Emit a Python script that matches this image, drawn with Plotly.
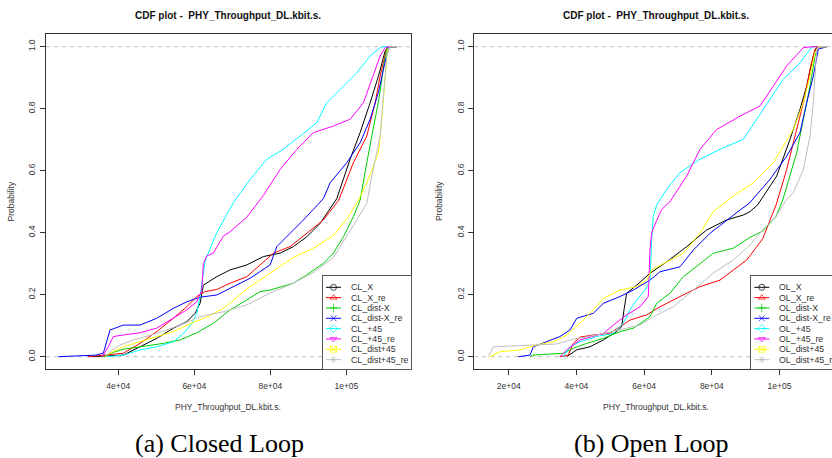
import plotly.graph_objects as go

W, H = 832, 458

# ---------------- data ----------------
cl_names = ["CL_X", "CL_X_re", "CL_dist-X", "CL_dist-X_re", "CL_+45", "CL_+45_re", "CL_dist+45", "CL_dist+45_re"]
ol_names = ["OL_X", "OL_X_re", "OL_dist-X", "OL_dist-X_re", "OL_+45", "OL_+45_re", "OL_dist+45", "OL_dist+45_re"]

# Closed loop
cl_x_v = [33000, 41316, 45711, 50107, 54476, 58003, 60188, 61504, 62372, 65899, 69400, 73794, 78164, 82560, 86060, 89585, 93089, 97484, 100985, 103616, 106248, 108432, 110194, 111000, 113300]
cl_x_p = [0, 0.005, 0.032, 0.059, 0.092, 0.113, 0.140, 0.172, 0.231, 0.258, 0.280, 0.296, 0.323, 0.334, 0.355, 0.387, 0.43, 0.51, 0.637, 0.723, 0.819, 0.905, 0.986, 1.0, 1.0]

cl_xre_v = [32000, 41316, 45711, 50107, 54476, 58003, 60635, 62820, 65899, 69400, 73794, 79059, 80796, 85192, 89585, 93956, 98000, 101852, 105379, 107564, 108880, 110458, 111200, 113300]
cl_xre_p = [0, 0.011, 0.043, 0.081, 0.124, 0.161, 0.194, 0.210, 0.217, 0.237, 0.258, 0.317, 0.334, 0.355, 0.398, 0.441, 0.505, 0.626, 0.712, 0.819, 0.905, 0.986, 1.0, 1.0]

cl_dx_v = [36000, 37816, 41316, 45711, 51844, 56239, 60635, 65004, 69400, 73794, 77295, 79928, 86060, 89585, 93956, 96588, 99220, 101852, 103616, 105379, 107116, 108695, 109932, 110643, 111500, 113300]
cl_dx_p = [0, 0.011, 0.024, 0.032, 0.043, 0.054, 0.077, 0.108, 0.151, 0.183, 0.210, 0.215, 0.237, 0.264, 0.301, 0.334, 0.387, 0.452, 0.505, 0.626, 0.733, 0.841, 0.948, 0.992, 1.0, 1.0]

cl_dxre_v = [24200, 34000, 36052, 37816, 41316, 45711, 50107, 54476, 58003, 61504, 65899, 70268, 74664, 79928, 81692, 85192, 88692, 93956, 95719, 100115, 103616, 106248, 108432, 109748, 111064, 113300]
cl_dxre_p = [0, 0.005, 0.011, 0.086, 0.102, 0.102, 0.124, 0.156, 0.177, 0.192, 0.199, 0.226, 0.253, 0.296, 0.355, 0.398, 0.441, 0.51, 0.561, 0.626, 0.690, 0.766, 0.852, 0.927, 0.997, 1.0]

cl_45_v = [37000, 41316, 45711, 50107, 54476, 57109, 59434, 60635, 61504, 62372, 62820, 63267, 65899, 70268, 74664, 79059, 83428, 87823, 92219, 94851, 99220, 102747, 106248, 108880, 109500, 113300]
cl_45_p = [0, 0.005, 0.022, 0.032, 0.048, 0.075, 0.108, 0.140, 0.194, 0.269, 0.306, 0.323, 0.4, 0.497, 0.572, 0.637, 0.669, 0.712, 0.755, 0.819, 0.873, 0.916, 0.97, 0.997, 1.0, 1.0]

cl_45re_v = [35500, 36052, 37368, 38684, 41316, 45711, 50107, 54476, 58003, 60635, 61951, 62372, 63267, 65004, 67636, 69400, 73794, 78164, 82560, 86955, 91324, 96588, 100985, 104484, 106696, 108880, 110194, 111000, 113300]
cl_45re_p = [0, 0.005, 0.032, 0.065, 0.070, 0.077, 0.092, 0.124, 0.151, 0.177, 0.215, 0.301, 0.325, 0.334, 0.389, 0.403, 0.45, 0.52, 0.604, 0.669, 0.723, 0.744, 0.766, 0.819, 0.895, 0.97, 0.997, 1.0, 1.0]

cl_d45_v = [36500, 37816, 41316, 45711, 50107, 54476, 59171, 63567, 67636, 71462, 74664, 79059, 86060, 91324, 96588, 100115, 102747, 105379, 108432, 109327, 110194, 110801, 111500, 113300]
cl_d45_p = [0, 0.011, 0.032, 0.048, 0.065, 0.081, 0.108, 0.129, 0.156, 0.194, 0.226, 0.262, 0.32, 0.35, 0.39, 0.445, 0.495, 0.561, 0.658, 0.766, 0.905, 0.992, 1.0, 1.0]

cl_d45re_v = [36500, 37816, 40447, 43948, 50107, 56239, 61504, 67636, 73794, 79928, 86060, 91624, 96588, 100115, 102747, 105379, 106696, 108880, 109932, 110643, 111500, 113300]
cl_d45re_p = [0, 0.016, 0.038, 0.054, 0.075, 0.102, 0.129, 0.145, 0.167, 0.205, 0.237, 0.274, 0.32, 0.387, 0.441, 0.495, 0.583, 0.712, 0.873, 0.97, 1.0, 1.0]

# Open loop
ol_x_v = [37134, 40087, 44016, 47945, 51903, 53380, 54059, 54857, 57811, 61739, 66673, 72581, 78489, 84397, 89301, 91271, 93555, 95209, 99167, 103096, 106050, 108028, 109976, 111000, 113900]
ol_x_p = [0, 0.022, 0.032, 0.054, 0.081, 0.097, 0.151, 0.205, 0.231, 0.269, 0.306, 0.355, 0.409, 0.441, 0.457, 0.468, 0.49, 0.518, 0.583, 0.701, 0.798, 0.873, 0.97, 1.0, 1.0]

ol_xre_v = [35154, 37607, 39083, 41062, 44991, 49924, 52878, 55832, 60765, 64693, 70601, 76510, 82418, 86347, 90305, 95000, 99000, 102120, 105075, 107527, 109000, 110480, 111500, 113900]
ol_xre_p = [0, 0.005, 0.043, 0.063, 0.07, 0.075, 0.097, 0.118, 0.135, 0.161, 0.194, 0.226, 0.247, 0.28, 0.312, 0.38, 0.49, 0.604, 0.733, 0.841, 0.927, 0.992, 1.0, 1.0]

ol_dx_v = [26292, 27000, 36129, 39083, 43041, 47945, 52878, 56807, 61739, 63719, 67648, 71577, 76510, 80439, 86347, 91271, 95029, 98959, 100939, 103096, 105075, 107027, 109000, 110480, 111500, 113900]
ol_dx_p = [0, 0.005, 0.011, 0.027, 0.043, 0.059, 0.081, 0.092, 0.129, 0.172, 0.205, 0.258, 0.3, 0.334, 0.35, 0.385, 0.405, 0.452, 0.505, 0.583, 0.658, 0.766, 0.873, 0.97, 1.0, 1.0]

ol_dxre_v = [22836, 26292, 27267, 31225, 35154, 38108, 40087, 44991, 47945, 52878, 56807, 61739, 64693, 70601, 74531, 79464, 84397, 88326, 91074, 97188, 102120, 106050, 108028, 109976, 111458, 113938]
ol_dxre_p = [0, 0.005, 0.032, 0.048, 0.065, 0.086, 0.124, 0.14, 0.172, 0.194, 0.215, 0.247, 0.274, 0.29, 0.344, 0.398, 0.441, 0.473, 0.495, 0.572, 0.647, 0.723, 0.819, 0.905, 0.992, 1.0]

ol_45_v = [36129, 38108, 41062, 46000, 50899, 53853, 55832, 57811, 60262, 61739, 62242, 62714, 63719, 66673, 70601, 76510, 82418, 89301, 93259, 97188, 101115, 106050, 109000, 110000, 113900]
ol_45_p = [0, 0.032, 0.048, 0.065, 0.075, 0.108, 0.151, 0.183, 0.215, 0.247, 0.38, 0.452, 0.49, 0.54, 0.594, 0.637, 0.669, 0.701, 0.766, 0.83, 0.895, 0.948, 0.992, 1.0, 1.0]

ol_45re_v = [35154, 37134, 41062, 47945, 50899, 54857, 58785, 61238, 61739, 62242, 63719, 65196, 67648, 72581, 76510, 81442, 88326, 94234, 98161, 102120, 107027, 109976, 113900]
ol_45re_p = [0, 0.022, 0.054, 0.075, 0.102, 0.135, 0.161, 0.194, 0.344, 0.40, 0.44, 0.475, 0.50, 0.583, 0.669, 0.733, 0.776, 0.809, 0.873, 0.938, 0.997, 1.0, 1.0]

ol_d45_v = [14476, 17430, 23338, 28271, 33175, 37134, 41062, 44991, 47945, 52878, 57811, 60765, 62242, 66673, 71577, 76510, 80439, 86347, 92253, 98161, 101115, 104073, 107027, 109000, 110480, 111500, 113900]
ol_d45_p = [0, 0.016, 0.022, 0.038, 0.048, 0.07, 0.108, 0.151, 0.188, 0.215, 0.226, 0.247, 0.28, 0.306, 0.334, 0.398, 0.468, 0.518, 0.561, 0.626, 0.68, 0.733, 0.819, 0.905, 0.981, 1.0, 1.0]

ol_d45re_v = [13974, 15451, 34179, 39083, 46000, 52878, 58785, 62714, 68623, 74531, 80439, 86347, 91271, 95029, 98959, 101913, 104073, 107027, 109000, 109976, 110480, 110983, 112000, 113900]
ol_d45re_p = [0, 0.032, 0.041, 0.056, 0.07, 0.086, 0.102, 0.129, 0.161, 0.215, 0.27, 0.312, 0.36, 0.409, 0.452, 0.505, 0.529, 0.604, 0.712, 0.819, 0.927, 0.992, 1.0, 1.0]

cl_series = [(cl_x_v, cl_x_p), (cl_xre_v, cl_xre_p), (cl_dx_v, cl_dx_p), (cl_dxre_v, cl_dxre_p),
             (cl_45_v, cl_45_p), (cl_45re_v, cl_45re_p), (cl_d45_v, cl_d45_p), (cl_d45re_v, cl_d45re_p)]
ol_series = [(ol_x_v, ol_x_p), (ol_xre_v, ol_xre_p), (ol_dx_v, ol_dx_p), (ol_dxre_v, ol_dxre_p),
             (ol_45_v, ol_45_p), (ol_45re_v, ol_45re_p), (ol_d45_v, ol_d45_p), (ol_d45re_v, ol_d45re_p)]

cl_xticks = [40000, 60000, 80000, 100000]
cl_xticktext = ["4e+04", "6e+04", "8e+04", "1e+05"]
ol_xticks = [20000, 40000, 60000, 80000, 100000]
ol_xticktext = ["2e+04", "4e+04", "6e+04", "8e+04", "1e+05"]
yticks = [0, 0.2, 0.4, 0.6, 0.8, 1.0]
yticktext = ["0.0", "0.2", "0.4", "0.6", "0.8", "1.0"]

title_text = "CDF plot - &nbsp;PHY_Throughput_DL.kbit.s."
xlab = "PHY_Throughput_DL.kbit.s."
ylab = "Probability"
captions = ["(a) Closed Loop", "(b) Open Loop"]

# ---------------- styles ----------------
colors = ["#000000", "#FF0000", "#00CD00", "#0000FF", "#00FFFF", "#FF00FF", "#FFFF00", "#BEBEBE"]
symbols = ["circle-open", "triangle-up-open", "cross-thin-open", "x-thin-open",
           "diamond-open", "triangle-down-open", "square-x-open", "asterisk-open"]
SANS = "Liberation Sans, Arial, sans-serif"
AX = "#333333"


def fx(px):
    return px / W


def fy(py):
    return 1 - py / H


fig = go.Figure()

panels = [
    ("x", "y", cl_series, 45.7, 411.0, [20900, 117000], cl_xticks, cl_xticktext, True),
    ("x2", "y2", ol_series, 474.3, 832.0, [9840, 115500], ol_xticks, ol_xticktext, False),
]
top_px, bot_px = 34.0, 369.0

for xa, ya, series, lpx, rpx, xr, xt, xtt, mirror_y in panels:
    for (v, p), c in zip(series, colors):
        fig.add_trace(go.Scatter(x=v, y=p, mode="lines", xaxis=xa, yaxis=ya,
                                 line=dict(color=c, width=1), showlegend=False,
                                 hoverinfo="skip"))

axis_common = dict(showgrid=False, zeroline=False, showline=True, linecolor=AX, linewidth=1,
                   ticks="outside", ticklen=5, tickwidth=1, tickcolor=AX,
                   tickfont=dict(family=SANS, size=8.5, color=AX))

layout = dict(
    width=W, height=H, margin=dict(l=0, r=0, t=0, b=0),
    paper_bgcolor="white", plot_bgcolor="white", showlegend=False,
)
for i, (xa, ya, series, lpx, rpx, xr, xt, xtt, mirror_y) in enumerate(panels):
    xkey = "xaxis" if xa == "x" else "xaxis2"
    ykey = "yaxis" if ya == "y" else "yaxis2"
    layout[xkey] = dict(axis_common, domain=[fx(lpx), fx(rpx)], range=xr, anchor=ya,
                        tickvals=xt, ticktext=xtt, mirror=True, ticklabelstandoff=4)
    layout[ykey] = dict(axis_common, domain=[fy(bot_px), fy(top_px)], range=[-0.0397, 1.041],
                        anchor=xa, tickvals=yticks, ticktext=yticktext, tickangle=-90,
                        mirror=mirror_y, ticklabelstandoff=1)

legend_boxes = [(322.7, 410.7, "x3", "y3", cl_names), (751.0, 832.0, "x4", "y4", ol_names)]
leg_top, leg_bot = 276.0, 369.0
for j, (l0, l1, xa, ya, names) in enumerate(legend_boxes):
    xk = "xaxis%d" % (j + 3)
    yk = "yaxis%d" % (j + 3)
    layout[xk] = dict(domain=[fx(l0), fx(l1)], range=[l0, l1], anchor=ya, showgrid=False,
                      zeroline=False, showticklabels=False, ticks="", showline=True,
                      linecolor="#555555", linewidth=1, mirror=True, fixedrange=True)
    layout[yk] = dict(domain=[fy(leg_bot), fy(leg_top)], range=[leg_bot, leg_top], anchor=xa,
                      showgrid=False, zeroline=False, showticklabels=False, ticks="",
                      showline=True, linecolor="#555555", linewidth=1, mirror=(j == 0),
                      fixedrange=True)

fig.update_layout(**layout)

for xa, ya in [("x", "y"), ("x2", "y2")]:
    for yv in (0, 1):
        fig.add_shape(type="line", xref=xa + " domain", yref=ya, x0=0, x1=1, y0=yv, y1=yv,
                      line=dict(color="#BEBEBE", width=1, dash="4px,4px"), layer="below")

annotations = []
for j, (l0, l1, xa, ya, names) in enumerate(legend_boxes):
    for k, (nm, c, s) in enumerate(zip(names, colors, symbols)):
        yy = 287.3 + 10.33 * k
        fig.add_trace(go.Scatter(
            x=[l0 + 3.3, l0 + 10.8, l0 + 18.3], y=[yy, yy, yy], mode="lines+markers",
            xaxis=xa, yaxis=ya, line=dict(color=c, width=1),
            marker=dict(symbol=s, size=[0, 6, 0], color=c, line=dict(color=c, width=1)),
            showlegend=False, hoverinfo="skip", cliponaxis=False))
        annotations.append(dict(x=l0 + 26.0, y=yy, xref=xa, yref=ya, text=nm, showarrow=False,
                                xanchor="left", yanchor="middle",
                                font=dict(family=SANS, size=8.8, color=AX)))

centers = [(45.7 + 411.0) / 2, (474.3 + 838.5) / 2]
ylab_x = [10.0, 438.6]
cap_x = [219.0, 651.0]
for i in range(2):
    annotations.append(dict(x=fx(centers[i]), y=fy(15), xref="paper", yref="paper",
                            text="<b>" + title_text + "</b>", showarrow=False,
                            xanchor="center", yanchor="middle",
                            font=dict(family=SANS, size=10, color="#111111")))
    annotations.append(dict(x=fx(centers[i]), y=fy(407), xref="paper", yref="paper",
                            text=xlab, showarrow=False, xanchor="center", yanchor="middle",
                            font=dict(family=SANS, size=8.5, color=AX)))
    annotations.append(dict(x=fx(ylab_x[i]), y=fy(201.5), xref="paper", yref="paper",
                            text=ylab, showarrow=False, textangle=-90,
                            xanchor="center", yanchor="middle",
                            font=dict(family=SANS, size=8.5, color=AX)))
    annotations.append(dict(x=fx(cap_x[i]), y=fy(443), xref="paper", yref="paper",
                            text=captions[i], showarrow=False, xanchor="center", yanchor="middle",
                            font=dict(family="Liberation Serif, serif", size=26, color="#000000")))

fig.update_layout(annotations=annotations)
fig.write_html("out.html", config={"displayModeBar": False},
               post_script="document.body.style.margin='0';document.body.style.overflow='hidden';")
